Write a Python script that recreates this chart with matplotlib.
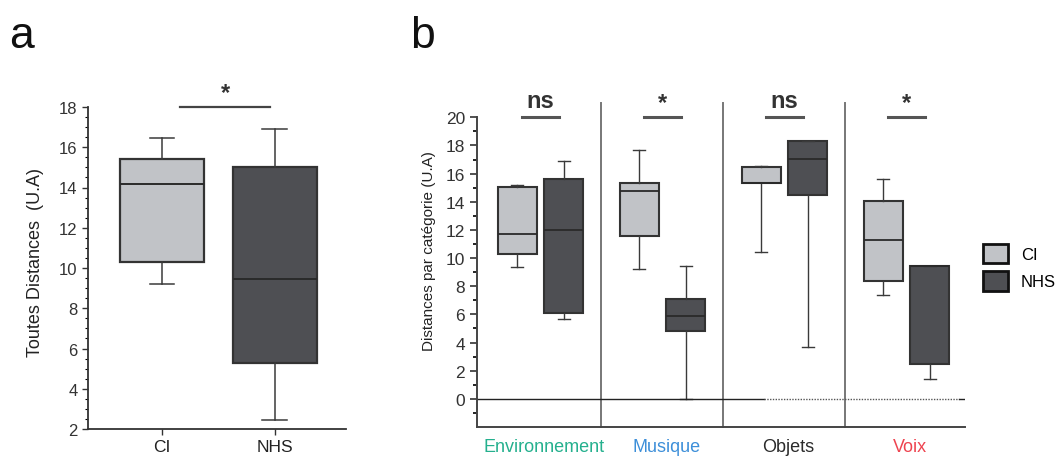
import numpy as np
import matplotlib
matplotlib.use("Agg")
import matplotlib.pyplot as plt
from matplotlib.patches import Patch

plt.rcParams['font.family'] = ['Liberation Sans', 'DejaVu Sans']

# panel a : all distances (whislo, q1, med, q3, whishi)
groups = ['CI', 'NHS']
all_ci = [9.2, 10.3, 14.15, 15.4, 16.45]
all_nhs = [2.45, 5.3, 9.45, 15.0, 16.9]
sig_a = '*'

# panel b : distances per category
categories = ['Environnement', 'Musique', 'Objets', 'Voix']
cat_colors = ['#25b08e', '#3d8fd9', '#2b2b2b', '#ee4450']
cat_ci = [[9.4, 10.3, 11.7, 15.05, 15.2],
          [9.2, 11.55, 14.75, 15.35, 17.7],
          [10.4, 15.3, 15.35, 16.45, 16.55],
          [7.35, 8.35, 11.3, 14.05, 15.6]]
cat_nhs = [[5.7, 6.1, 12.0, 15.65, 16.9],
           [0.0, 4.8, 5.9, 7.1, 9.45],
           [3.65, 14.5, 17.05, 18.3, 18.3],
           [1.4, 2.5, 9.45, 9.45, 9.45]]
sig_b = ['ns', '*', 'ns', '*']

light = '#c1c3c7'
dark = '#4e4f53'
edge = '#333333'


def stats(v):
    return dict(whislo=v[0], q1=v[1], med=v[2], q3=v[3], whishi=v[4], fliers=[])


def draw(ax, vals, pos, width, color, capw, lw=1.1):
    ax.bxp([stats(v) for v in vals], positions=pos, widths=width,
           capwidths=capw, patch_artist=True, showfliers=False,
           boxprops=dict(facecolor=color, edgecolor=edge, linewidth=lw + 0.5),
           medianprops=dict(color='#2a2a2a', linewidth=lw + 0.3),
           whiskerprops=dict(color='#3a3a3a', linewidth=lw),
           capprops=dict(color='#3a3a3a', linewidth=lw),
           manage_ticks=False)


fig = plt.figure(figsize=(10.59, 4.60), dpi=100)

# ---------- panel a ----------
axa = fig.add_axes([88 / 1059, 1 - 430 / 460, 258 / 1059, 322 / 460])
draw(axa, [all_ci], [1], 0.75, light, 0.22)
draw(axa, [all_nhs], [2], 0.75, dark, 0.22)
axa.set_xlim(0.345, 2.63)
axa.set_ylim(2, 18)
axa.set_yticks(np.arange(2, 19, 2))
axa.set_yticks(np.arange(2, 18.1, 0.5), minor=True)
axa.set_xticks([1, 2])
axa.set_xticklabels(groups, fontsize=12.5)
axa.tick_params(axis='y', labelsize=12, length=4, width=1, colors='#333333', labelcolor='#333333')
axa.tick_params(axis='y', which='minor', length=2, width=0.8)
axa.tick_params(axis='x', length=4, width=1, colors='#333333', labelcolor='#222222')
for s in ['top', 'right']:
    axa.spines[s].set_visible(False)
for s in ['left', 'bottom']:
    axa.spines[s].set_linewidth(1.3)
    axa.spines[s].set_color('#333333')
axa.set_ylabel('Toutes Distances  (U.A)', fontsize=13, color='#222222')
axa.yaxis.set_label_coords(-0.17, 0.52)
axa.plot([1.16, 1.96], [18, 18], color='#444444', lw=1.6, clip_on=False)
axa.text(1.56, 18.15, sig_a, ha='center', va='bottom', fontsize=17, color='#333333', fontweight='bold')

# ---------- panel b ----------
axb = fig.add_axes([477 / 1059, 1 - 428 / 460, 488 / 1059, 309.7 / 460])
idx = np.arange(len(categories))
draw(axb, cat_ci, idx + 0.33, 0.32, light, 0.1, lw=1.0)
draw(axb, cat_nhs, idx + 0.71, 0.32, dark, 0.1, lw=1.0)
axb.set_xlim(0, 4)
axb.set_ylim(-2, 20)
axb.set_yticks(np.arange(0, 21, 2))
axb.set_yticks(np.arange(-1, 20, 2), minor=True)
axb.tick_params(axis='y', labelsize=12.5, length=5, width=1.2, colors='#333333', labelcolor='#333333')
axb.tick_params(axis='y', which='minor', length=3, width=1.2)
axb.set_xticks(idx + 0.55)
axb.set_xticklabels(categories, fontsize=13)
for t, c in zip(axb.get_xticklabels(), cat_colors):
    t.set_color(c)
axb.tick_params(axis='x', length=0, pad=8)
for s in ['top', 'right']:
    axb.spines[s].set_visible(False)
for s in ['left', 'bottom']:
    axb.spines[s].set_linewidth(1.4)
    axb.spines[s].set_color('#444444')
axb.set_ylabel('Distances par catégorie (U.A)', fontsize=11, color='#222222')
axb.yaxis.set_label_coords(-0.085, 0.57)

# separators between categories
for i in idx[1:]:
    axb.plot([i + 0.02, i + 0.02], [-2, 21.0], color='#777777', lw=1.4, clip_on=False)
# zero line
axb.plot([0, 2.35], [0, 0], color='#222222', lw=1.0)
axb.plot([2.35, 3.95], [0, 0], color='#555555', lw=1.0, ls=(0, (1, 1)))
axb.plot([3.95, 4.0], [0, 0], color='#222222', lw=1.0)

# significance
for i, s in zip(idx, sig_b):
    c = i + 0.52
    axb.plot([c - 0.15, c + 0.15], [20, 20], color='#555555', lw=2.2, clip_on=False)
    if s == '*':
        axb.text(c, 20.25, s, ha='center', va='bottom', fontsize=17, color='#333333', fontweight='bold')
    else:
        axb.text(c, 20.4, s, ha='center', va='bottom', fontsize=17, color='#333333', fontweight='bold')

# legend
handles = [Patch(facecolor=light, edgecolor='#111111', linewidth=2),
           Patch(facecolor=dark, edgecolor='#111111', linewidth=2)]
fig.legend(handles, groups, loc='upper left', bbox_to_anchor=(976 / 1059, 1 - 238 / 460),
           frameon=False, fontsize=12, handlelength=1.5, handleheight=1.45,
           labelspacing=0.45, handletextpad=0.8, borderaxespad=0)

fig.text(9 / 1059, 1 - 48 / 460, 'a', fontsize=32, va='baseline', color='#111111')
fig.text(410 / 1059, 1 - 48 / 460, 'b', fontsize=32, va='baseline', color='#111111')

fig.savefig('out.png', dpi=100)
